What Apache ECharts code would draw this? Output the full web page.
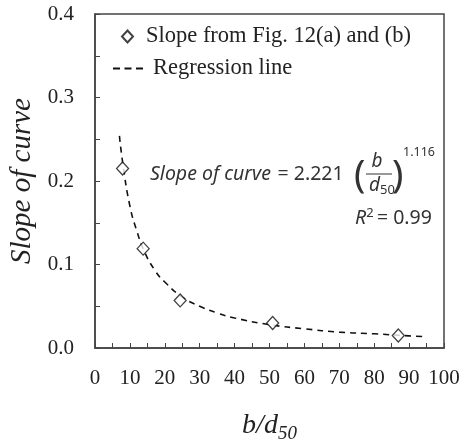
<!DOCTYPE html>
<html>
<head>
<meta charset="utf-8">
<script src="https://cdn.jsdelivr.net/npm/echarts@6/dist/echarts.min.js"></script>
<style>
  html, body { margin: 0; padding: 0; background: #fff; }
  #chart { width: 470px; height: 442px; }
</style>
</head>
<body>
<div id="chart"></div>
<script>
// measured points (b/d50, slope)
const pointX = [7.9, 13.8, 24.4, 50.9, 86.9];
const pointY = [0.215, 0.119, 0.057, 0.030, 0.015];

// regression curve
const lineX = [7, 8, 10, 12, 14, 17, 20, 25, 30, 35, 40, 50, 60, 70, 80, 90, 95];
const lineY = [0.254, 0.220, 0.170, 0.140, 0.117, 0.094, 0.079, 0.061, 0.050, 0.042, 0.036, 0.028, 0.023, 0.019, 0.017, 0.0145, 0.0135];

const xTicks = { min: 0, max: 100, step: 10 };
const yTicks = { min: 0, max: 0.4, step: 0.1 };

const serif = "'Liberation Serif', 'Times New Roman', serif";
const sans = "'Noto Sans', 'Open Sans', sans-serif";
const ink = "#222";
const eqInk = "#333";

const pointName = "Slope from Fig. 12(a) and (b)";
const lineName = "Regression line";

const chart = echarts.init(document.getElementById("chart"));

// small helper for the equation pieces
const eqText = (x, y, text, size, italic, align) => ({
  type: "text",
  x,
  y,
  style: {
    text,
    fontFamily: sans,
    fontSize: size,
    fontStyle: italic ? "italic" : "normal",
    fill: eqInk,
    align: align || "left",
    verticalAlign: "middle",
  },
});

chart.setOption({
  animation: false,
  grid: {
    left: 95,
    right: 26,
    top: 14,
    bottom: 94,
    outerBoundsMode: "none",
    show: true,
    borderColor: "#444",
    borderWidth: 1.5,
  },
  legend: [
    {
      left: 121,
      top: 25,
      padding: 0,
      itemWidth: 11,
      itemHeight: 12,
      textStyle: { fontFamily: serif, fontSize: 22.5, color: ink, padding: [0, 0, 0, 8] },
      data: [{ name: pointName, icon: "diamond" }],
    },
    {
      left: 113,
      top: 57,
      padding: 0,
      itemWidth: 30,
      itemHeight: 2,
      textStyle: { fontFamily: serif, fontSize: 22.5, color: ink, padding: [0, 0, 0, 5] },
      data: [{ name: lineName, icon: "path://M0,0h7v2h-7z M11.5,0h7v2h-7z M23,0h7v2h-7z" }],
    },
  ],
  xAxis: {
    type: "value",
    min: xTicks.min,
    max: xTicks.max,
    interval: xTicks.step,
    name: "{i|b/d}{s|50}",
    nameLocation: "middle",
    nameGap: 60,
    nameTextStyle: {
      rich: {
        i: { fontFamily: serif, fontStyle: "italic", fontSize: 28, color: ink },
        s: { fontFamily: serif, fontStyle: "italic", fontSize: 19, color: ink, padding: [16, 0, 0, 0] },
      },
    },
    axisLine: { lineStyle: { color: "#444", width: 1.5 } },
    axisTick: { inside: true, length: 5, lineStyle: { color: "#444" } },
    minorTick: { show: true, splitNumber: 2, length: 5, lineStyle: { color: "#444" } },
    splitLine: { show: false },
    axisLabel: { fontFamily: serif, fontSize: 21, color: ink, margin: 20 },
  },
  yAxis: {
    type: "value",
    min: yTicks.min,
    max: yTicks.max,
    interval: yTicks.step,
    name: "Slope of curve",
    nameLocation: "middle",
    nameGap: 58,
    nameTextStyle: { fontFamily: serif, fontStyle: "italic", fontSize: 29, color: ink },
    axisLine: { lineStyle: { color: "#444", width: 1.5 } },
    axisTick: { inside: true, length: 5, lineStyle: { color: "#444" } },
    minorTick: { show: true, splitNumber: 2, length: 5, lineStyle: { color: "#444" } },
    splitLine: { show: false },
    axisLabel: {
      fontFamily: serif,
      fontSize: 21,
      color: ink,
      margin: 21,
      formatter: (v) => v.toFixed(1),
    },
  },
  series: [
    {
      name: lineName,
      type: "line",
      data: lineX.map((x, i) => [x, lineY[i]]),
      smooth: true,
      symbol: "none",
      lineStyle: { color: "#111", width: 1.6, type: [6, 5] },
      itemStyle: { color: "#111" },
      z: 2,
    },
    {
      name: pointName,
      type: "scatter",
      data: pointX.map((x, i) => [x, pointY[i]]),
      symbol: "diamond",
      symbolSize: [12, 13],
      itemStyle: { color: "#fff", borderColor: "#111", borderWidth: 1.3 },
      z: 3,
    },
  ],
  graphic: [
    {
      type: "text",
      x: 150,
      y: 174,
      style: {
        text: "{i|Slope of curve}  {n|= 2.221}",
        verticalAlign: "middle",
        rich: {
          i: { fontFamily: sans, fontStyle: "italic", fontSize: 19.5, fill: eqInk },
          n: { fontFamily: sans, fontSize: 19.5, fill: eqInk },
        },
      },
    },
    eqText(354, 176, "(", 38, false),
    eqText(392, 176, ")", 38, false),
    eqText(377, 162, "b", 19, true, "center"),
    { type: "line", shape: { x1: 366, y1: 174, x2: 392, y2: 174 }, style: { stroke: eqInk, lineWidth: 1 } },
    {
      type: "text",
      x: 369,
      y: 186,
      style: {
        text: "{i|d}{s|50}",
        verticalAlign: "middle",
        rich: {
          i: { fontFamily: sans, fontStyle: "italic", fontSize: 19, fill: eqInk },
          s: { fontFamily: sans, fontSize: 13, fill: eqInk, padding: [9, 0, 0, 0] },
        },
      },
    },
    eqText(403, 152, "1.116", 12.5, false),
    {
      type: "text",
      x: 355,
      y: 218,
      style: {
        text: "{i|R}{s|2} {n|= 0.99}",
        verticalAlign: "middle",
        rich: {
          i: { fontFamily: sans, fontStyle: "italic", fontSize: 19.5, fill: eqInk },
          s: { fontFamily: sans, fontSize: 13, fill: eqInk, padding: [0, 0, 9, 0] },
          n: { fontFamily: sans, fontSize: 19.5, fill: eqInk },
        },
      },
    },
  ],
});
</script>
</body>
</html>
